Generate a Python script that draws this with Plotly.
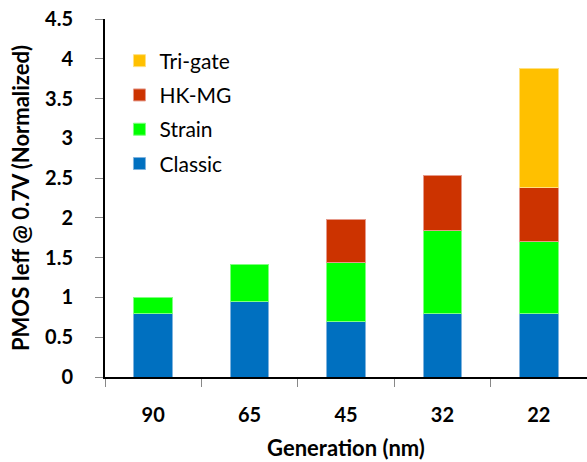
import plotly.graph_objects as go

generations = ["90", "65", "45", "32", "22"]
classic = [0.80, 0.95, 0.70, 0.80, 0.80]
strain = [0.20, 0.46, 0.74, 1.04, 0.90]
hkmg = [None, None, 0.54, 0.69, 0.68]
trigate = [None, None, None, None, 1.50]

series = [
    ("Classic", classic, "#0070C0", "#7fb3de"),
    ("Strain", strain, "#00FF00", "#80ff80"),
    ("HK-MG", hkmg, "#CC3300", "#e6998a"),
    ("Tri-gate", trigate, "#FFC000", "#ffe080"),
]

FONT = "Lato"
fig = go.Figure()
for i, (name, vals, col, edge) in enumerate(series):
    fig.add_trace(go.Bar(
        x=generations, y=vals, name=name,
        marker=dict(color=col, line=dict(color=edge, width=1)),
        legendgroup=name, legendrank=10 - i,
    ))

fig.update_layout(
    barmode="stack",
    bargap=0.6,
    width=587, height=462,
    margin=dict(l=105, r=0, t=19, b=85),
    plot_bgcolor="white", paper_bgcolor="white",
    font=dict(family=FONT, color="black"),
    showlegend=True,
    legend=dict(
        x=0.03, y=0.94, xanchor="left", yanchor="top",
        traceorder="grouped", tracegroupgap=4,
        font=dict(family=FONT, size=21, color="black"),
        bgcolor="rgba(0,0,0,0)", itemwidth=30,
    ),
    xaxis=dict(
        type="category", showline=True, linecolor="black", linewidth=2,
        ticks="outside", tickson="boundaries", ticklen=8, tickcolor="#888888",
        tickfont=dict(family=FONT, size=20, color="black", weight="bold"),
        ticklabelstandoff=19,
        title=dict(text="<b>Generation (nm)</b>", font=dict(family=FONT, size=22), standoff=16),
        mirror=False,
    ),
    yaxis=dict(
        range=[0, 4.5], dtick=0.5, showgrid=False, zeroline=False,
        showline=True, linecolor="black", linewidth=2,
        ticks="outside", ticklen=8, tickcolor="#888888",
        tickfont=dict(family=FONT, size=20, color="black", weight="bold"),
        ticklabelstandoff=18,
        title=dict(text="<b>PMOS Ieff @ 0.7V (Normalized)</b>", font=dict(family=FONT, size=22), standoff=9),
    ),
)

fig.write_html("out.html")
